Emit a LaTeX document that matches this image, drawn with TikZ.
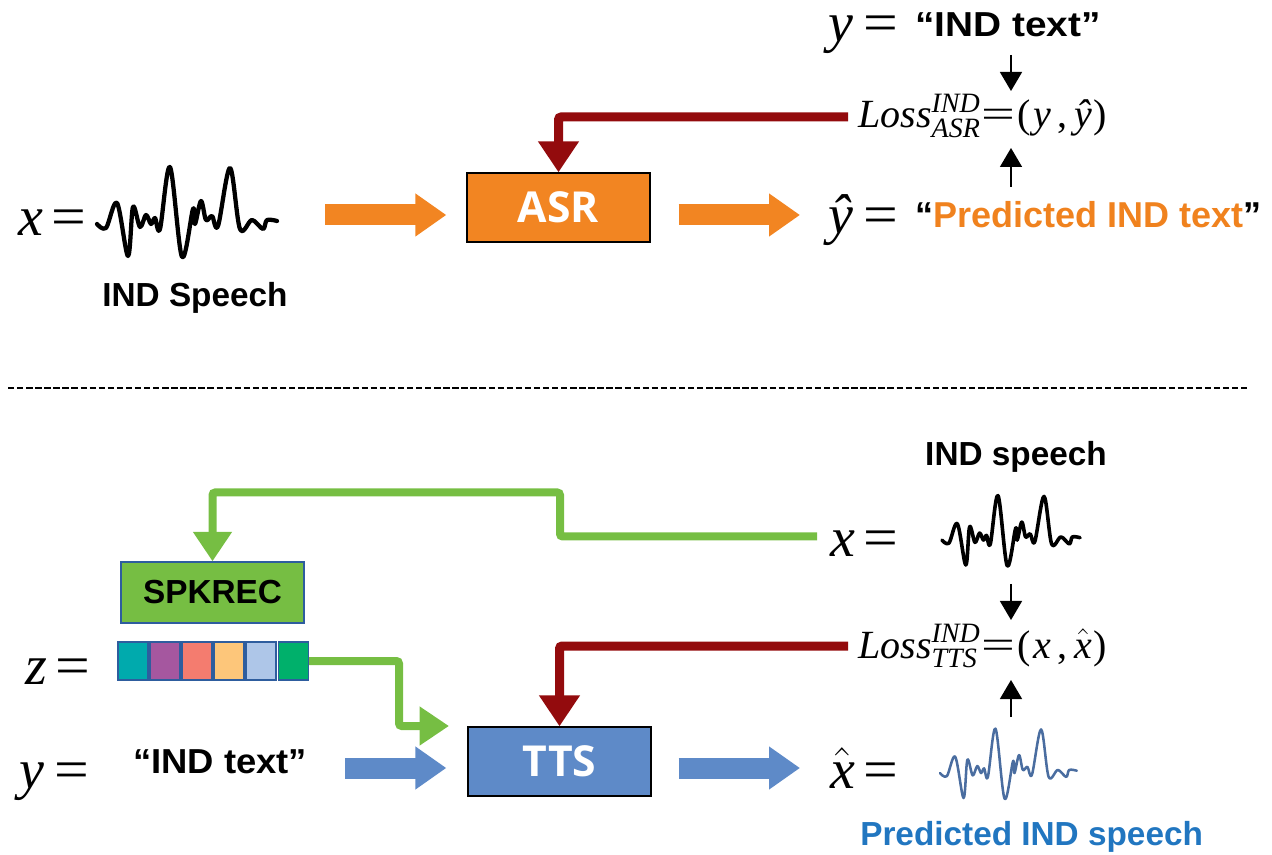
\RequirePackage{fix-cm}
\documentclass[tikz,border=0pt]{standalone}
\usepackage{amsmath}
\usepackage{fontspec}
\setmainfont{Liberation Sans}
\newfontfamily\boxfont{Open Sans}
\newfontfamily\lserif{Liberation Serif}
\usetikzlibrary{arrows.meta}
\definecolor{asrorange}{HTML}{F28522}
\definecolor{txtorange}{HTML}{F0821E}
\definecolor{darkred}{HTML}{930B0D}
\definecolor{lgreen}{HTML}{76BE43}
\definecolor{ttsblue}{HTML}{5E8AC8}
\definecolor{waveblue}{HTML}{4A6DA0}
\definecolor{txtblue}{HTML}{2176C0}
\definecolor{bordblue}{HTML}{2E5D9E}
\definecolor{cA}{HTML}{00AAAD}
\definecolor{cB}{HTML}{A5579F}
\definecolor{cC}{HTML}{F47C6F}
\definecolor{cD}{HTML}{FDC67A}
\definecolor{cE}{HTML}{AEC6E8}
\definecolor{cF}{HTML}{00B06B}
\newcommand\wavepts{(0,2) (9,6) (20,-19) (31,34) (36,-15) (43,5) (49,-7) (54,2) (58,-4) (63,7) (73,-55) (85,35) (96,-13) (98,2) (104,-21) (109,-2) (115,-6) (121,4) (133,-54) (143,7) (155,-2) (166,7) (170,-2) (180,-1)}
\newcommand\eqsym{\kern6pt{\upshape\scalebox{1.1}[1]{=}}}
\newcommand\yeqsym{\kern8pt{\upshape\scalebox{1.1}[1]{=}}}
\newcommand\lossrhs[2]{\kern1pt\scalebox{1.5}[1]{=}\kern1pt(\kern2.5pt#1\kern4.5pt,\kern5pt#2\kern1.5pt)}
\tikzset{
  mathlbl/.style={inner sep=0pt, anchor=base west, text height=24pt, text depth=8pt, font=\lserif\itshape\fontsize{42}{50}\selectfont},
  losslbl/.style={inner sep=0pt, anchor=base west, font=\lserif\fontsize{30}{36}\selectfont},
  lbl/.style={inner sep=0pt, font=\fontsize{25}{30}\selectfont\bfseries},
  qlbl/.style={inner sep=0pt, anchor=base west, font=\fontsize{26}{31}\selectfont\bfseries},
  procbox/.style={draw=black, line width=1pt, minimum width=137.25pt, minimum height=51.75pt, text=white, font=\boxfont\fontsize{32}{38}\selectfont\bfseries},
  spkbox/.style={draw=bordblue, line width=1pt, fill=lgreen, minimum width=137.25pt, minimum height=45.75pt, font=\fontsize{25}{30}\selectfont\bfseries},
  sq/.style={draw=bordblue, line width=1pt, minimum width=22.5pt, minimum height=28.5pt, inner sep=0pt},
  blockarrow/.style={line width=15.75pt, -{Triangle[length=23.25pt, width=30.75pt]}},
  redarrow/.style={darkred, line width=6.75pt, rounded corners=2pt, -{Triangle[length=23.25pt, width=29.25pt]}},
  greenarrow/.style={lgreen, line width=6pt, rounded corners=2pt, -{Triangle[length=22pt, width=27.75pt]}},
  smallarrow/.style={black, line width=1.1pt, -{Triangle[length=14.25pt, width=16.5pt]}},
  wave/.style={line width=3.2pt, line join=round, line cap=round},
}
\begin{document}
\begin{tikzpicture}[x=0.75pt,y=-0.75pt]
\useasboundingbox (0,0) rectangle (1272,855);

% ---------- top part ----------
\node[mathlbl] (xtop) at (18,236) {x\eqsym};
\begin{scope}[shift={(97,222)}]
  \draw[wave] plot[smooth, tension=0.55] coordinates {\wavepts};
\end{scope}
\node[lbl, anchor=base] (indsp) at (195,307) {IND Speech};

\node[procbox, fill=asrorange] (asr) at (558.5,207.5) {ASR};

\coordinate (o1s) at (325,215);
\draw[blockarrow, asrorange, shorten >=15pt] (o1s) -- (o1s -| asr.west);
\coordinate (o2e) at (800,215);
\draw[blockarrow, asrorange, shorten <=21pt] (o2e -| asr.east) -- (o2e);

\node[mathlbl] (ytop) at (828,42) {y\yeqsym};
\node[qlbl] (ytxt) at (915,37) {\scalebox{1.12}[1]{“IND text”}};
\node[mathlbl] (yhat) at (828,234) {ŷ\yeqsym};
\node[lbl, anchor=base west, font=\fontsize{27}{32}\selectfont\bfseries] (yhattxt) at (915,228) {“\textcolor{txtorange}{Predicted IND text}”};

\node[losslbl] (loss1) at (858,128) {$\text{\itshape Loss}^{\text{\itshape IND}}_{\text{\itshape ASR}}$\lossrhs{\textit{y}}{\textit{ŷ}}};
\coordinate (s1a) at (1011,55);
\coordinate (s1b) at (1011,91);
\draw[smallarrow] (s1a) -- (s1b);
\coordinate (s2a) at (1011,187);
\coordinate (s2b) at (1011,148);
\draw[smallarrow] (s2a) -- (s2b);

\coordinate (r1) at (848,117);
\draw[redarrow] (r1) -| (asr.north);

% ---------- separator ----------
\coordinate (d1) at (8,388);
\coordinate (d2) at (1250,388);
\draw[line width=1.5pt, dash pattern=on 4.8pt off 2pt] (d1) -- (d2);

% ---------- bottom part ----------
\node[lbl, anchor=base] (indsp2) at (1016,466) {IND speech};
\node[mathlbl] (xbot) at (830,557) {x\eqsym};
\begin{scope}[shift={(942,538.5)}, xscale=0.767, yscale=0.78]
  \draw[wave, line width=2.7pt] plot[smooth, tension=0.55] coordinates {\wavepts};
\end{scope}

\node[spkbox] (spk) at (212.5,592.5) {SPKREC};
\node[sq, fill=cA] (z1) at (133,661) {};
\node[sq, fill=cB] (z2) at (165,661) {};
\node[sq, fill=cC] (z3) at (197,661) {};
\node[sq, fill=cD] (z4) at (229,661) {};
\node[sq, fill=cE] (z5) at (261,661) {};
\node[sq, fill=cF] (z6) at (293.5,661) {};
\node[mathlbl] (zlbl) at (25,684) {z\eqsym};

\node[mathlbl] (ybot) at (19,788) {y\yeqsym};
\node[qlbl] (ybtxt) at (133,773) {\scalebox{1.05}[1]{“IND text”}};

\node[procbox, fill=ttsblue] (tts) at (559.5,761.5) {TTS};

\coordinate (b1s) at (345,768);
\draw[blockarrow, ttsblue, shorten >=15.75pt] (b1s) -- (b1s -| tts.west);
\coordinate (b2e) at (800,768);
\draw[blockarrow, ttsblue, shorten <=20.25pt] (b2e -| tts.east) -- (b2e);

\node[mathlbl] (xhat) at (830,788) {$\hat{\text{x}}$\eqsym};
\begin{scope}[shift={(940,771.5)}, xscale=0.76, yscale=0.78]
  \draw[wave, waveblue, line width=1.9pt] plot[smooth, tension=0.55] coordinates {\wavepts};
\end{scope}
\node[lbl, anchor=base west, text=txtblue] (predsp) at (860,845) {Predicted IND speech};

\node[losslbl] (loss2) at (858,658) {$\text{\itshape Loss}^{\text{\itshape IND}}_{\text{\itshape TTS}}$\lossrhs{\textit{x}}{$\hat{\text{\itshape x}}$}};
\coordinate (s3a) at (1011,584);
\coordinate (s3b) at (1011,620);
\draw[smallarrow] (s3a) -- (s3b);
\coordinate (s4a) at (1011,717);
\coordinate (s4b) at (1011,680);
\draw[smallarrow] (s4a) -- (s4b);

\coordinate (r2) at (848,646);
\draw[redarrow] (r2) -| (tts.north);

% green feedback from x to SPKREC
\coordinate (g1) at (817,536.5);
\coordinate (gA) at (560,536.5);
\coordinate (gB) at (560,492.5);
\draw[greenarrow] (g1) -- (gA) -- (gB) -- (gB -| spk.north) -- (spk.north);

% green from z to TTS
\coordinate (gC) at (399,661);
\coordinate (gD) at (399,726);
\coordinate (gE) at (449,726);
\draw[greenarrow] (z6.east) -- (gC) -- (gD) -- (gE);
\end{tikzpicture}
\end{document}
